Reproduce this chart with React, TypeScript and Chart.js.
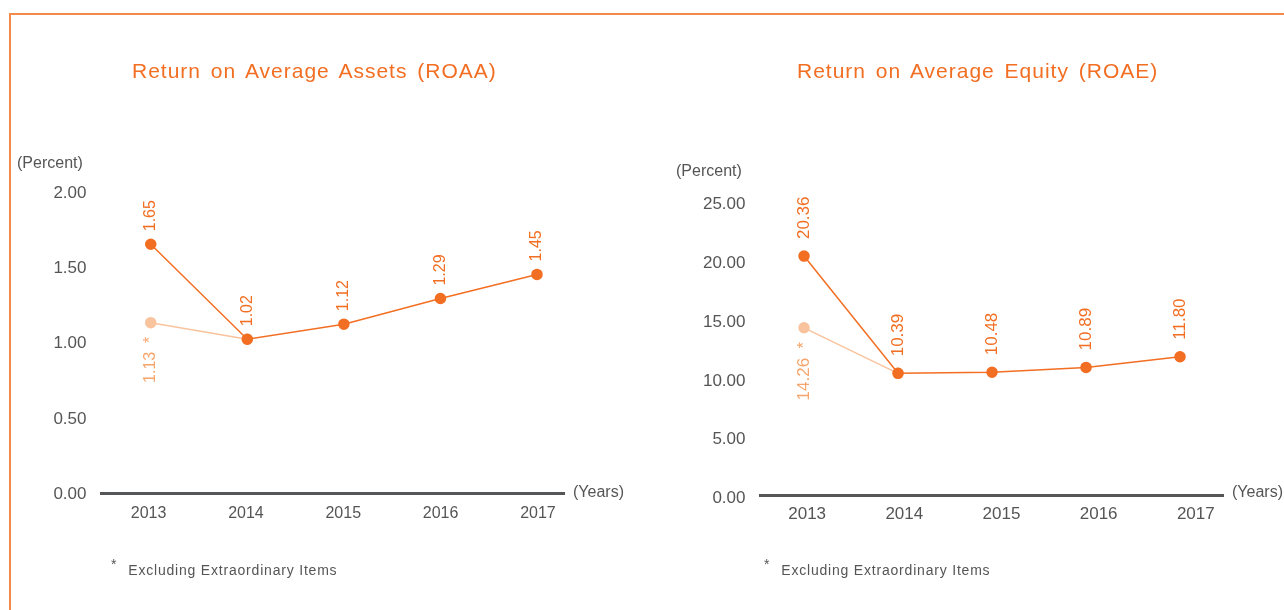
import React, { useEffect, useRef } from 'react';
import { Chart, registerables } from 'chart.js';

Chart.register(...registerables);

// ---------- data ----------
const years = [2013, 2014, 2015, 2016, 2017];
const roaaValues = [1.65, 1.02, 1.12, 1.29, 1.45];
const roaaExclYears = [2013, 2014];
const roaaExclValues = [1.13, 1.02];
const roaeValues = [20.36, 10.39, 10.48, 10.89, 11.8];
const roaeExclYears = [2013, 2014];
const roaeExclValues = [14.26, 10.39];
const roaaTicks = [0, 0.5, 1, 1.5, 2];
const roaeTicks = [0, 5, 10, 15, 20, 25];

const ORANGE = '#F26E22';
const LIGHT = '#F9C39E';
const LIGHT_TEXT = '#F6A56C';
const GRAY = '#555555';
const AXIS = '#555658';
const FONT = '"Liberation Sans", Arial, Helvetica, sans-serif';

const valueLabels = {
  id: 'valueLabels',
  afterDatasetsDraw(chart: any) {
    const ctx = chart.ctx;
    chart.data.datasets.forEach((ds: any, i: number) => {
      const cfg = ds.valueLabels;
      if (!cfg) return;
      const meta = chart.getDatasetMeta(i);
      meta.data.forEach((pt: any, j: number) => {
        const text = cfg.texts[j];
        if (!text) return;
        ctx.save();
        ctx.translate(pt.x, pt.y + (cfg.below ? cfg.gap : -cfg.gap));
        ctx.rotate(-Math.PI / 2);
        ctx.font = cfg.size + 'px ' + FONT;
        ctx.fillStyle = cfg.color;
        ctx.textAlign = cfg.below ? 'right' : 'left';
        ctx.textBaseline = 'middle';
        ctx.fillText(text, 0, 0);
        ctx.restore();
      });
    });
  },
};

type Opts = {
  values: number[];
  exclYears: number[];
  exclValues: number[];
  yTicks: number[];
  padding: { left: number; right: number; top: number; bottom: number };
  dataX: [number, number];
  labelX: [number, number];
  yLabelOffset: number;
  gap: number;
  labelSize: number;
  yearSize: number;
  yearPad: number;
  tickSize: number;
};

function makeConfig(o: Opts): any {
  const yMax = o.yTicks[o.yTicks.length - 1];
  return {
    type: 'line',
    data: {
      datasets: [
        {
          data: o.values.map((v, i) => ({ x: years[i], y: v })),
          borderColor: ORANGE,
          backgroundColor: ORANGE,
          pointBackgroundColor: ORANGE,
          pointBorderColor: ORANGE,
          pointRadius: 5,
          borderWidth: 1.5,
          xAxisID: 'x',
          yAxisID: 'y',
          clip: false,
          order: 1,
          valueLabels: {
            texts: o.values.map((v) => v.toFixed(2)),
            color: ORANGE,
            below: false,
            gap: o.gap,
            size: o.labelSize,
          },
        },
        {
          data: o.exclValues.map((v, i) => ({ x: o.exclYears[i], y: v })),
          borderColor: LIGHT,
          backgroundColor: LIGHT,
          pointBackgroundColor: LIGHT,
          pointBorderColor: LIGHT,
          pointRadius: 5,
          borderWidth: 1.5,
          xAxisID: 'x',
          yAxisID: 'y',
          clip: false,
          order: 2,
          valueLabels: {
            texts: o.exclValues.map((v, i) => (i === 0 ? v.toFixed(2) + '  *' : '')),
            color: LIGHT_TEXT,
            below: true,
            gap: 14,
            size: o.labelSize,
          },
        },
      ],
    },
    options: {
      animation: false,
      responsive: false,
      maintainAspectRatio: false,
      events: [],
      layout: { padding: o.padding },
      plugins: { legend: { display: false }, tooltip: { enabled: false }, title: { display: false } },
      scales: {
        x: {
          type: 'linear',
          display: false,
          min: o.dataX[0],
          max: o.dataX[1],
        },
        xl: {
          type: 'linear',
          position: 'bottom',
          min: o.labelX[0],
          max: o.labelX[1],
          afterBuildTicks: (s: any) => {
            s.ticks = years.map((v) => ({ value: v }));
          },
          afterFit: (s: any) => {
            s.height = 40;
          },
          grid: { display: false, drawTicks: false },
          border: { display: true, color: AXIS, width: 3 },
          ticks: {
            autoSkip: false,
            maxRotation: 0,
            padding: o.yearPad,
            color: GRAY,
            font: { family: FONT, size: o.yearSize },
            callback: (v: any) => String(v),
          },
        },
        y: {
          type: 'linear',
          min: 0,
          max: yMax,
          afterBuildTicks: (s: any) => {
            s.ticks = o.yTicks.map((v) => ({ value: v }));
          },
          afterFit: (s: any) => {
            s.width = 60;
          },
          grid: { display: false, drawTicks: false },
          border: { display: false },
          ticks: {
            padding: 15,
            color: GRAY,
            labelOffset: o.yLabelOffset,
            font: { family: FONT, size: o.tickSize },
            callback: (v: any) => Number(v).toFixed(2),
          },
        },
      },
    },
    plugins: [valueLabels],
  };
}

function LineChart({ opts, left }: { opts: Opts; left: number }) {
  const ref = useRef<HTMLCanvasElement | null>(null);
  useEffect(() => {
    if (!ref.current) return;
    const chart = new Chart(ref.current, makeConfig(opts));
    return () => chart.destroy();
  }, []);
  return (
    <canvas
      ref={ref}
      width={642}
      height={610}
      style={{ position: 'absolute', left, top: 0, width: 642, height: 610 }}
    />
  );
}

const txt = (extra: React.CSSProperties): React.CSSProperties => ({
  position: 'absolute',
  fontFamily: FONT,
  whiteSpace: 'nowrap',
  lineHeight: 1,
  ...extra,
});

export default function App() {
  const left: Opts = {
    values: roaaValues,
    exclYears: roaaExclYears,
    exclValues: roaaExclValues,
    yTicks: roaaTicks,
    padding: { left: 41.5, right: 77.5, top: 191.5, bottom: 77 },
    dataX: [2012.49, 2017.285],
    labelX: [2012.516, 2017.273],
    yLabelOffset: 1.5,
    gap: 13,
    labelSize: 16,
    yearSize: 16,
    yearPad: 11,
    tickSize: 17,
  };
  const right: Opts = {
    values: roaeValues,
    exclYears: roaeExclYears,
    exclValues: roaeExclValues,
    yTicks: roaeTicks,
    padding: { left: 58.5, right: 61, top: 201.5, bottom: 74.5 },
    dataX: [2012.537, 2017.457],
    labelX: [2012.52, 2017.28],
    yLabelOffset: 3,
    gap: 17,
    labelSize: 17,
    yearSize: 17,
    yearPad: 9,
    tickSize: 17,
  };
  const titleStyle = { fontSize: 21, color: ORANGE, letterSpacing: 1.0, wordSpacing: 3 };
  const noteStyle = { fontSize: 14, color: GRAY, letterSpacing: 0.8 };
  return (
    <div
      style={{
        position: 'fixed',
        left: 0,
        top: 0,
        width: 1284,
        height: 610,
        overflow: 'hidden',
        background: '#ffffff',
      }}
    >
      <div
        style={{
          position: 'absolute',
          left: 9,
          top: 13,
          width: 1290,
          height: 610,
          borderTop: '2px solid #F28A4C',
          borderLeft: '2px solid #F28A4C',
        }}
      />
      <LineChart opts={left} left={0} />
      <LineChart opts={right} left={642} />

      <div style={txt({ left: 132, top: 60, ...titleStyle })}>Return on Average Assets (ROAA)</div>
      <div style={txt({ left: 797, top: 60, ...titleStyle })}>Return on Average Equity (ROAE)</div>

      <div style={txt({ left: 17, top: 155, fontSize: 16, color: GRAY })}>(Percent)</div>
      <div style={txt({ left: 676, top: 163, fontSize: 16, color: GRAY })}>(Percent)</div>

      <div style={txt({ left: 573, top: 484, fontSize: 16, color: GRAY })}>(Years)</div>
      <div style={txt({ left: 1232, top: 484, fontSize: 16, color: GRAY })}>(Years)</div>

      <div style={txt({ left: 111, top: 563, ...noteStyle })}>
        <span style={{ position: 'relative', top: -6 }}>*</span>
        <span style={{ marginLeft: 11 }}>Excluding Extraordinary Items</span>
      </div>
      <div style={txt({ left: 764, top: 563, ...noteStyle })}>
        <span style={{ position: 'relative', top: -6 }}>*</span>
        <span style={{ marginLeft: 11 }}>Excluding Extraordinary Items</span>
      </div>
    </div>
  );
}
